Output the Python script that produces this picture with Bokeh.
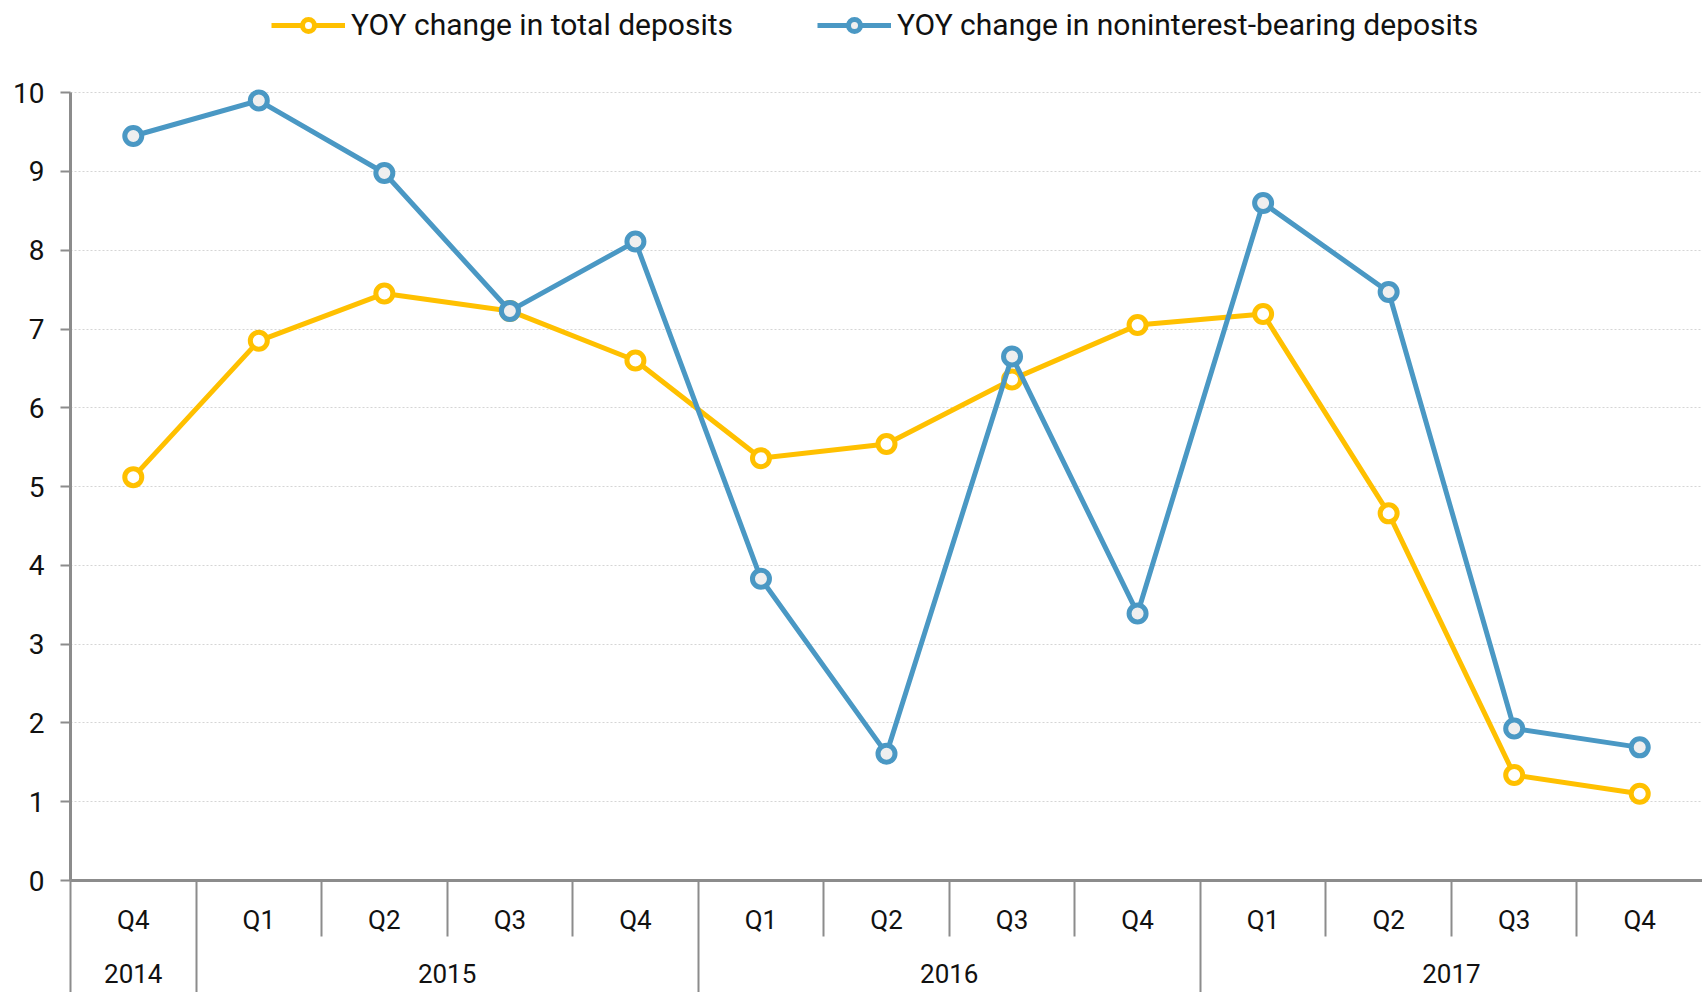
from bokeh.plotting import figure
from bokeh.models import (Range1d, LinearAxis, FixedTicker, Legend,
                          LegendItem, Grid, ColumnDataSource)
from bokeh.embed import file_html
from bokeh.resources import INLINE

# ---- data ----
years = ["2014", "2015", "2015", "2015", "2015", "2016", "2016", "2016", "2016",
         "2017", "2017", "2017", "2017"]
quarters = ["Q4", "Q1", "Q2", "Q3", "Q4", "Q1", "Q2", "Q3", "Q4", "Q1", "Q2", "Q3", "Q4"]
total_deposits = [5.12, 6.85, 7.45, 7.23, 6.60, 5.36, 5.54, 6.36, 7.05, 7.19, 4.66, 1.34, 1.10]
noninterest_deposits = [9.45, 9.90, 8.98, 7.23, 8.11, 3.83, 1.61, 6.65, 3.39, 8.60, 7.47, 1.93, 1.69]
y_ticks = [0, 1, 2, 3, 4, 5, 6, 7, 8, 9, 10]
series_labels = ["YOY change in total deposits", "YOY change in noninterest-bearing deposits"]

YELLOW = "#FFC000"
BLUE = "#4A98C4"
AXIS = "#8C8C8C"
FONT = "Roboto"

n = len(quarters)
# category slot i occupies [i, i+1] on the x scale; points sit at the slot centre
q_centers = [i + 0.5 for i in range(n)]
src = ColumnDataSource(dict(x=q_centers, total=total_deposits, nonint=noninterest_deposits))

# the frame reaches the top of the canvas so the legend can sit above the 10 line;
# axis line and grid stop at 10
p = figure(width=1702, height=992, x_range=Range1d(0, n), y_range=Range1d(0, 11.17),
           output_backend="svg", toolbar_location=None,
           x_axis_location=None, y_axis_location=None, title_location=None,
           min_border=0, min_border_left=70, min_border_bottom=112)
p.outline_line_color = None
# drop the default grids, keep only our own
p.center = [r for r in p.center if not isinstance(r, Grid)]

# ---- y axis + grid ----
yaxis = LinearAxis(ticker=FixedTicker(ticks=y_ticks), bounds=(0, 10),
                   axis_line_color=AXIS, axis_line_width=3,
                   major_tick_line_color=AXIS, major_tick_line_width=2,
                   major_tick_out=10, major_tick_in=0, minor_tick_line_color=None,
                   major_label_text_font=FONT, major_label_text_font_size="28px",
                   major_label_text_color="#111111", major_label_standoff=16)
p.add_layout(yaxis, "left")
p.add_layout(Grid(dimension=1, ticker=yaxis.ticker, grid_line_color="#D5D5D5",
                  grid_line_dash="2 2", grid_line_width=1))

# ---- x axis: separators ----
short_b = [i for i in range(1, n) if years[i] == years[i - 1]]
long_b = [0] + [i for i in range(1, n) if years[i] != years[i - 1]]
sep_axis = LinearAxis(ticker=FixedTicker(ticks=short_b, minor_ticks=long_b),
                      axis_line_color=AXIS, axis_line_width=3,
                      major_tick_line_color=AXIS, major_tick_line_width=2,
                      major_tick_in=-56, major_tick_out=0,
                      minor_tick_line_color=AXIS, minor_tick_line_width=2,
                      minor_tick_in=-115, minor_tick_out=0,
                      major_label_text_font_size="0px", major_label_standoff=0,
                      major_label_overrides={b: "" for b in short_b})
p.add_layout(sep_axis, "below")

# ---- x axis: quarter labels ----
q_axis = LinearAxis(ticker=FixedTicker(ticks=q_centers),
                    major_label_overrides={c: q for c, q in zip(q_centers, quarters)},
                    axis_line_color=None, major_tick_line_color=None,
                    minor_tick_line_color=None, major_tick_out=0, major_tick_in=0,
                    major_label_standoff=24, major_label_text_font=FONT,
                    major_label_text_font_size="26px", major_label_text_color="#111111")
p.add_layout(q_axis, "below")

# ---- x axis: year labels ----
uniq_years = []
for y in years:
    if y not in uniq_years:
        uniq_years.append(y)
y_centers = []
for y in uniq_years:
    idx = [i for i, yy in enumerate(years) if yy == y]
    y_centers.append((idx[0] + idx[-1] + 1) / 2)
yr_axis = LinearAxis(ticker=FixedTicker(ticks=y_centers),
                     major_label_overrides={c: y for c, y in zip(y_centers, uniq_years)},
                     axis_line_color=None, major_tick_line_color=None,
                     minor_tick_line_color=None, major_tick_out=0, major_tick_in=0,
                     major_label_standoff=26, major_label_text_font=FONT,
                     major_label_text_font_size="26px", major_label_text_color="#111111")
p.add_layout(yr_axis, "below")

# ---- series ----
l1 = p.line(x="x", y="total", source=src, line_color=YELLOW, line_width=5, line_join="round")
s1 = p.scatter(x="x", y="total", source=src, marker="circle", size=17,
               fill_color="#FFFFFF", line_color=YELLOW, line_width=5)
l2 = p.line(x="x", y="nonint", source=src, line_color=BLUE, line_width=5, line_join="round")
s2 = p.scatter(x="x", y="nonint", source=src, marker="circle", size=17,
               fill_color="#EFEFEF", line_color=BLUE, line_width=5)

# ---- legend at the top of the frame (screen offsets from frame bottom-left) ----
legend = Legend(items=[LegendItem(label=series_labels[0], renderers=[l1, s1]),
                       LegendItem(label=series_labels[1], renderers=[l2, s2])],
                orientation="horizontal", location=(201, 838),
                glyph_width=74, glyph_height=30, label_standoff=6, spacing=84,
                padding=0, margin=0, border_line_color=None, background_fill_alpha=0,
                label_text_font=FONT, label_text_font_size="30px",
                label_text_color="#111111")
p.add_layout(legend, "center")

open("out.html", "w").write(file_html(p, INLINE))
